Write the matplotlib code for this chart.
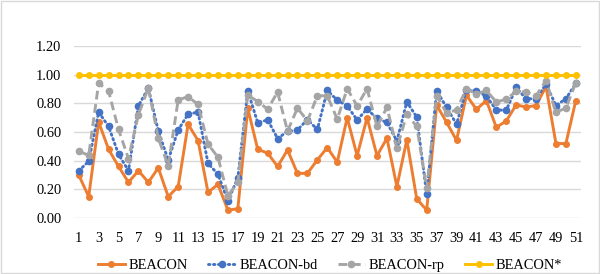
import matplotlib.pyplot as plt
from matplotlib.patches import Rectangle

# values
cases = list(range(1, 52))
beacon = [0.30, 0.15, 0.67, 0.48, 0.36, 0.25, 0.33, 0.25, 0.35, 0.15,
          0.22, 0.655, 0.54, 0.18, 0.235, 0.056, 0.065, 0.765, 0.48, 0.453,
          0.36, 0.475, 0.312, 0.312, 0.406, 0.492, 0.39, 0.70, 0.435, 0.70,
          0.435, 0.557, 0.22, 0.546, 0.133, 0.056, 0.788, 0.668, 0.542, 0.857,
          0.758, 0.82, 0.633, 0.677, 0.79, 0.774, 0.785, 0.918, 0.52, 0.52, 0.82]
beacon_bd = [0.33, 0.396, 0.739, 0.639, 0.445, 0.33, 0.783, 0.907, 0.607, 0.405,
             0.615, 0.725, 0.739, 0.382, 0.306, 0.12, 0.28, 0.888, 0.665, 0.685,
             0.555, 0.605, 0.615, 0.687, 0.618, 0.89, 0.823, 0.782, 0.685, 0.76,
             0.695, 0.667, 0.538, 0.81, 0.704, 0.165, 0.888, 0.772, 0.655, 0.895,
             0.888, 0.85, 0.755, 0.751, 0.911, 0.832, 0.832, 0.935, 0.785, 0.832, 0.94]
beacon_rp = [0.466, 0.438, 0.942, 0.884, 0.618, 0.415, 0.722, 0.908, 0.557, 0.365,
             0.825, 0.846, 0.793, 0.516, 0.424, 0.156, 0.25, 0.86, 0.812, 0.76,
             0.879, 0.607, 0.767, 0.678, 0.853, 0.853, 0.69, 0.902, 0.783, 0.902,
             0.639, 0.772, 0.487, 0.725, 0.639, 0.207, 0.853, 0.732, 0.755, 0.902,
             0.865, 0.89, 0.809, 0.83, 0.883, 0.88, 0.853, 0.958, 0.739, 0.767, 0.945]
beacon_star = [1.0] * 51
yticks = [0.0, 0.2, 0.4, 0.6, 0.8, 1.0, 1.2]

plt.rcParams['font.family'] = ['Liberation Serif', 'DejaVu Serif']
plt.rcParams['font.size'] = 10.4

fig = plt.figure(figsize=(6.0, 2.74), dpi=100)
ax = fig.add_axes([0.123, 0.204, 0.845, 0.628])

ax.plot(cases, beacon, color='#ED7D31', lw=2.1, marker='o', ms=4, label='BEACON', zorder=3)
ax.plot(cases, beacon_bd, color='#4472C4', lw=2.1, ls=(0, (0.5, 1.2)), dash_capstyle='round',
        marker='o', ms=4.5, label='BEACON-bd', zorder=4)
ax.plot(cases, beacon_rp, color='#A5A5A5', lw=2.1, ls=(0, (3, 1.6)), marker='o', ms=4.5,
        label='BEACON-rp', zorder=5)
ax.plot(cases, beacon_star, color='#FFC000', lw=2.1, marker='o', ms=4, label='BEACON*', zorder=6)

ax.set_xlim(0.5, 51.5)
ax.set_ylim(0, 1.2)
ax.set_yticks(yticks)
ax.set_yticklabels([f"{v:.2f}" for v in yticks])
ax.set_xticks(cases[::2])
ax.tick_params(axis='y', length=0, pad=9)
ax.tick_params(axis='x', length=0, pad=10)
ax.grid(axis='y', color='#D9D9D9', lw=1)
ax.set_axisbelow(True)
for s in ax.spines.values():
    s.set_visible(False)

fig.legend(loc='center', bbox_to_anchor=(0.55, 0.03), ncol=4, frameon=False,
           handlelength=1.9, handletextpad=0.25, columnspacing=1.4, borderpad=0)

fig.patches.append(Rectangle((0.002, 0.004), 0.996, 0.992, transform=fig.transFigure,
                             fill=False, edgecolor='#D9D9D9', lw=1))

fig.savefig('out.png', dpi=100)
